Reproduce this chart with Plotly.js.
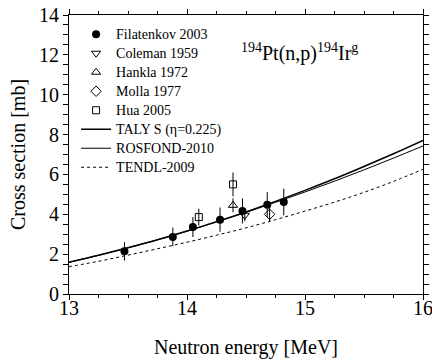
<!DOCTYPE html>
<html>
<head>
<meta charset="utf-8">
<script src="https://cdn.plot.ly/plotly-3.0.1.min.js"></script>
<style>html,body{margin:0;padding:0;background:#fff;}#chart{width:432px;height:364px;}</style>
</head>
<body>
<div id="chart"></div>
<script>
// Experimental data
const filE = [13.47, 13.88, 14.05, 14.28, 14.47, 14.68, 14.82];
const filY = [2.14, 2.86, 3.36, 3.73, 4.17, 4.48, 4.62];
const filErr = [0.46, 0.47, 0.5, 0.61, 0.63, 0.63, 0.67];

const colE = [14.49];
const colY = [3.95];
const colErr = [0.3];

const hanE = [14.39];
const hanY = [4.45];
const hanErr = [0.35];

const molE = [14.7];
const molY = [4.0];
const molErr = [0.35];

const huaE = [14.1, 14.39];
const huaY = [3.86, 5.5];
const huaErr = [0.42, 0.6];

// Evaluations
const evE = [13, 13.25, 13.5, 13.75, 14, 14.25, 14.5, 14.75, 15, 15.25, 15.5, 15.75, 16];
const talys = [1.59, 1.94, 2.32, 2.72, 3.16, 3.63, 4.12, 4.65, 5.2, 5.78, 6.4, 7.04, 7.71];
const rosfond = [1.59, 1.94, 2.32, 2.72, 3.15, 3.61, 4.09, 4.6, 5.12, 5.66, 6.23, 6.82, 7.43];
const tendl = [1.37, 1.64, 1.95, 2.27, 2.6, 2.95, 3.32, 3.73, 4.16, 4.61, 5.1, 5.65, 6.26];

const legendNames = ['Filatenkov 2003', 'Coleman 1959', 'Hankla 1972', 'Molla 1977', 'Hua 2005',
  'TALY S (η=0.225)', 'ROSFOND-2010', 'TENDL-2009'];

const serif = 'Liberation Serif';
const nm = (s) => '<span style="font-size:14px">' + s + '</span>';
const eb = (arr) => ({type: 'data', array: arr, visible: true, width: 0, thickness: 1, color: '#000'});

const traces = [
  {x: filE, y: filY, error_y: eb(filErr), mode: 'markers', name: nm(legendNames[0]),
   marker: {symbol: 'circle', size: 8, color: '#000'}},
  {x: colE, y: colY, error_y: eb(colErr), mode: 'markers', name: nm(legendNames[1]),
   marker: {symbol: 'triangle-down-open', size: 8, color: '#000', line: {width: 1}}},
  {x: hanE, y: hanY, error_y: eb(hanErr), mode: 'markers', name: nm(legendNames[2]),
   marker: {symbol: 'triangle-up-open', size: 8, color: '#000', line: {width: 1}}},
  {x: molE, y: molY, error_y: eb(molErr), mode: 'markers', name: nm(legendNames[3]),
   marker: {symbol: 'diamond-open', size: 8, color: '#000', line: {width: 1}}},
  {x: huaE, y: huaY, error_y: eb(huaErr), mode: 'markers', name: nm(legendNames[4]),
   marker: {symbol: 'square-open', size: 7, color: '#000', line: {width: 1}}},
  {x: evE, y: talys, mode: 'lines', name: nm(legendNames[5]), line: {color: '#000', width: 1.5, shape: 'spline'}},
  {x: evE, y: rosfond, mode: 'lines', name: nm(legendNames[6]), line: {color: '#000', width: 1, shape: 'spline'}},
  {x: evE, y: tendl, mode: 'lines', name: nm(legendNames[7]), line: {color: '#000', width: 1, dash: 'dot', shape: 'spline'}},
  {x: [], y: [], xaxis: 'x2', mode: 'markers', showlegend: false, hoverinfo: 'skip'}
];

const axisCommon = {
  showgrid: false, zeroline: false, showline: true, linecolor: '#000', linewidth: 1,
  mirror: 'allticks', ticks: 'outside', ticklen: 5, tickwidth: 1, tickcolor: '#000',
  ticklabeloverflow: 'allow',
  tickfont: {family: serif, size: 20, color: '#000'}
};

const layout = {
  width: 432, height: 364,
  margin: {l: 69, r: 9, t: 15, b: 70},
  paper_bgcolor: '#fff', plot_bgcolor: '#fff',
  font: {family: serif, color: '#000'},
  showlegend: true,
  legend: {x: 0.02, y: 0.983, xanchor: 'left', yanchor: 'top', bgcolor: 'rgba(0,0,0,0)',
    font: {family: serif, size: 11.5, color: '#000'}, tracegroupgap: 0},
  xaxis: Object.assign({}, axisCommon, {
    range: [13, 16], tick0: 13, dtick: 1, showticklabels: false,
    minor: {dtick: 0.25, ticklen: 3, tickwidth: 1, tickcolor: '#000', ticks: 'outside'}
  }),
  xaxis2: {
    overlaying: 'x', matches: 'x', anchor: 'y', side: 'bottom', range: [13, 16],
    showgrid: false, zeroline: false, showline: false, ticks: '', tick0: 13, dtick: 1,
    ticklabeloverflow: 'allow', tickfont: {family: serif, size: 20, color: '#000'},
    title: {text: 'Neutron energy [MeV]', font: {family: serif, size: 20, color: '#000'}, standoff: 21}
  },
  yaxis: Object.assign({}, axisCommon, {
    range: [0, 14], tick0: 0, dtick: 2,
    minor: {dtick: 0.5, ticklen: 3, tickwidth: 1, tickcolor: '#000', ticks: 'outside'},
    title: {text: 'Cross section [mb]', font: {family: serif, size: 20, color: '#000'}, standoff: 8}
  }),
  annotations: [{
    xref: 'paper', yref: 'paper', x: 0.48, y: 0.865, xanchor: 'left', yanchor: 'middle',
    text: '<sup>194</sup>Pt(n,p)<sup>194</sup>Ir<sup>g</sup>', showarrow: false,
    font: {family: serif, size: 20, color: '#000'}
  }]
};

Plotly.newPlot('chart', traces, layout, {displayModeBar: false, staticPlot: true});
</script>
</body>
</html>
